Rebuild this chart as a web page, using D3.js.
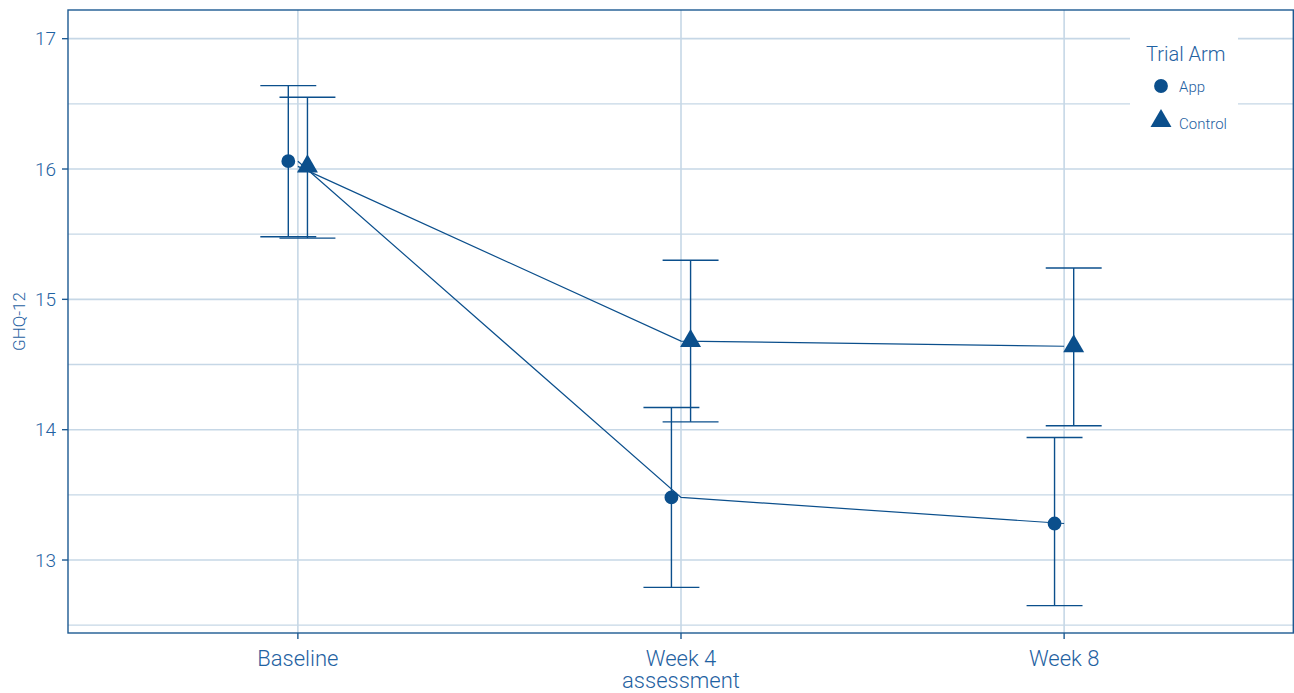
<!DOCTYPE html>
<html>
<head>
<meta charset="utf-8">
<script src="https://cdn.jsdelivr.net/npm/d3@7"></script>
<style>
  body { margin: 0; background: #fff; }
  svg { display: block; font-family: Roboto, "Open Sans", sans-serif; font-weight: 300; }
</style>
</head>
<body>
<svg id="visualization" width="1294" height="693"></svg>
<script>
const timepoints = ["Baseline", "Week 4", "Week 8"];
const timeLabels = [["Baseline"], ["Week 4", "assessment"], ["Week 8"]];
const arms = ["App", "Control"];
const appMean = [16.06, 13.48, 13.28];
const appLower = [15.48, 12.79, 12.65];
const appUpper = [16.64, 14.17, 13.94];
const controlMean = [16.02, 14.68, 14.64];
const controlLower = [15.47, 14.06, 14.03];
const controlUpper = [16.55, 15.30, 15.24];
const yTicks = [13, 14, 15, 16, 17];
const yMinor = [12.5, 13.5, 14.5, 15.5, 16.5];

const ink = "#0b4f8c";
const textCol = "#1f62a2";
const gridCol = "#c6d7e6";

const margin = { top: 10, right: 0, bottom: 60, left: 68 };
const W = 1294, H = 693;
const width = W - margin.left - margin.right;
const height = H - margin.top - margin.bottom;

const series = [
    { arm: "App", mean: appMean, lo: appLower, hi: appUpper, dodge: -1 },
    { arm: "Control", mean: controlMean, lo: controlLower, hi: controlUpper, dodge: 1 }
];

const xScale = d3.scalePoint()
    .domain(timepoints)
    .range([0, width])
    .padding(0.6);
const step = xScale.step();
const dodge = step * 0.025;
const capHalf = step * 0.073;

const yScale = d3.scaleLinear()
    .domain([12.44, 17.22])
    .range([height, 0]);

const svg = d3.select("#visualization");
const chart = svg.append("g")
    .attr("transform", `translate(${margin.left}, ${margin.top})`);

// grid
chart.selectAll(".minor")
    .data(yMinor)
    .join("line")
    .attr("x1", 0).attr("x2", width)
    .attr("y1", d => yScale(d)).attr("y2", d => yScale(d))
    .attr("stroke", gridCol).attr("stroke-width", 1.3);
chart.selectAll(".major")
    .data(yTicks)
    .join("line")
    .attr("x1", 0).attr("x2", width)
    .attr("y1", d => yScale(d)).attr("y2", d => yScale(d))
    .attr("stroke", gridCol).attr("stroke-width", 1.6);
chart.selectAll(".vgrid")
    .data(timepoints)
    .join("line")
    .attr("x1", d => xScale(d)).attr("x2", d => xScale(d))
    .attr("y1", 0).attr("y2", height)
    .attr("stroke", gridCol).attr("stroke-width", 1.6);

// lines (undodged)
const line = d3.line()
    .x((d, i) => xScale(timepoints[i]))
    .y(d => yScale(d));
series.forEach(s => {
    chart.append("path")
        .attr("d", line(s.mean))
        .attr("fill", "none")
        .attr("stroke", ink)
        .attr("stroke-width", 1.2);
});

// error bars
series.forEach(s => {
    const g = chart.append("g");
    timepoints.forEach((t, i) => {
        const cx = xScale(t) + s.dodge * dodge;
        g.append("line")
            .attr("x1", cx).attr("x2", cx)
            .attr("y1", yScale(s.lo[i])).attr("y2", yScale(s.hi[i]))
            .attr("stroke", ink).attr("stroke-width", 1.4);
        [s.lo[i], s.hi[i]].forEach(v => {
            g.append("line")
                .attr("x1", cx - capHalf).attr("x2", cx + capHalf)
                .attr("y1", yScale(v)).attr("y2", yScale(v))
                .attr("stroke", ink).attr("stroke-width", 1.4);
        });
    });
});

// points
const circleSym = d3.symbol().type(d3.symbolCircle).size(150);
const triSym = d3.symbol().type(d3.symbolTriangle).size(190);
series.forEach(s => {
    chart.selectAll(null)
        .data(s.mean)
        .join("path")
        .attr("d", s.arm === "App" ? circleSym() : triSym())
        .attr("transform", (d, i) => `translate(${xScale(timepoints[i]) + s.dodge * dodge}, ${yScale(d)})`)
        .attr("fill", ink);
});

// panel border
chart.append("rect")
    .attr("x", 0).attr("y", 0)
    .attr("width", width - 0.7).attr("height", height)
    .attr("fill", "none")
    .attr("stroke", "#1d5a92")
    .attr("stroke-width", 1.4);

// y axis
const yAxis = chart.append("g");
yTicks.forEach(t => {
    yAxis.append("line")
        .attr("x1", -6).attr("x2", 0)
        .attr("y1", yScale(t)).attr("y2", yScale(t))
        .attr("stroke", "#1d5a92").attr("stroke-width", 1.4);
    yAxis.append("text")
        .attr("x", -12).attr("y", yScale(t))
        .attr("dy", "0.35em")
        .attr("text-anchor", "end")
        .attr("font-size", 19)
        .attr("fill", textCol)
        .text(t);
});

// x axis
const xAxis = chart.append("g").attr("transform", `translate(0, ${height})`);
timepoints.forEach((t, i) => {
    xAxis.append("line")
        .attr("x1", xScale(t)).attr("x2", xScale(t))
        .attr("y1", 0).attr("y2", 6)
        .attr("stroke", "#1d5a92").attr("stroke-width", 1.4);
    const txt = xAxis.append("text")
        .attr("text-anchor", "middle")
        .attr("font-size", 22)
        .attr("fill", textCol);
    timeLabels[i].forEach((l, j) => {
        txt.append("tspan")
            .attr("x", xScale(t))
            .attr("y", 33 + j * 22)
            .text(l);
    });
});

// y title
svg.append("text")
    .attr("transform", `translate(25, ${margin.top + height / 2}) rotate(-90)`)
    .attr("text-anchor", "middle")
    .attr("font-size", 17)
    .attr("fill", textCol)
    .text("GHQ-12");

// legend
const legend = svg.append("g").attr("transform", "translate(1130, 28)");
legend.append("rect")
    .attr("width", 108).attr("height", 115)
    .attr("fill", "#fff");
legend.append("text")
    .attr("x", 16).attr("y", 33)
    .attr("font-size", 20)
    .attr("fill", textCol)
    .text("Trial Arm");
arms.forEach((a, i) => {
    legend.append("path")
        .attr("d", (a === "App" ? circleSym : triSym)())
        .attr("transform", `translate(31, ${58 + i * 35})`)
        .attr("fill", ink);
    legend.append("text")
        .attr("x", 49).attr("y", 58 + i * 37)
        .attr("dy", "0.38em")
        .attr("font-size", 15)
        .attr("fill", textCol)
        .text(a);
});
</script>
</body>
</html>
